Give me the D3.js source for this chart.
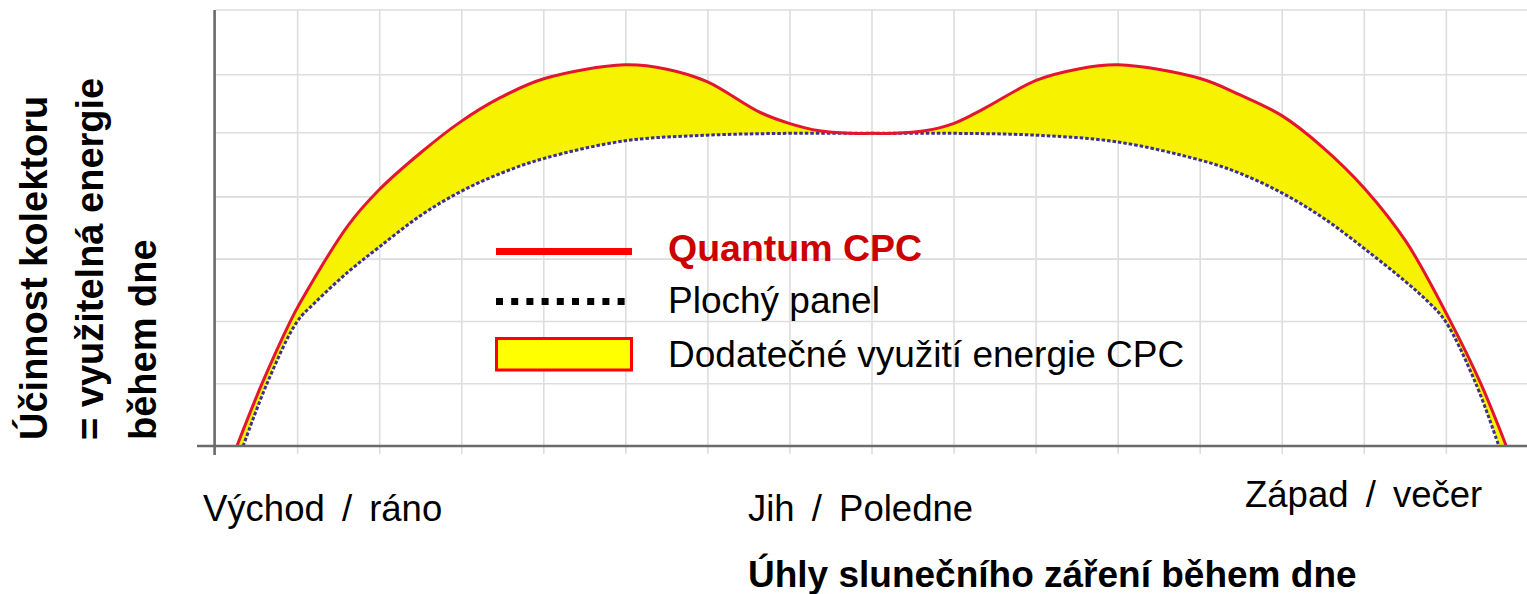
<!DOCTYPE html>
<html>
<head>
<meta charset="utf-8">
<script src="https://cdn.jsdelivr.net/npm/d3@7"></script>
<style>
  html, body { margin: 0; padding: 0; background: #fff; }
  svg { display: block; font-family: "Liberation Sans", Arial, Helvetica, sans-serif; }
</style>
</head>
<body>
<svg id="chart" width="1527" height="594"></svg>
<script>
// ---- data (x: sun angle in grid units, 8 = south/noon; y: collector efficiency in grid units) ----
const cpcX   = [0.26, 0.565, 0.906, 1.03, 1.62, 1.99, 2.51, 2.98, 3.48, 4.01, 4.99, 5.5, 5.99, 6.63, 6.99, 7.36, 7.73, 8.0,
                8.27, 8.64, 9.0, 9.37, 10.0, 10.5, 11.0, 12.0, 12.48, 13.0, 13.49, 14.0, 14.51, 15.05, 15.42, 15.73];
const cpcY   = [0, 1.0, 1.99, 2.30, 3.55, 4.11, 4.72, 5.20, 5.60, 5.90, 6.12, 6.05, 5.85, 5.36, 5.18, 5.06, 5.02, 5.02,
                5.02, 5.06, 5.18, 5.42, 5.87, 6.05, 6.12, 5.90, 5.64, 5.30, 4.80, 4.14, 3.28, 2.0, 1.0, 0];
const flatX  = [0.336, 0.626, 0.99, 1.21, 1.62, 1.99, 2.51, 2.98, 3.48, 4.01, 4.99, 5.99, 6.99, 8.0,
                9.0, 10.0, 11.0, 12.0, 12.48, 13.0, 13.49, 14.0, 14.51, 14.79, 14.99, 15.36, 15.64];
const flatY  = [0, 1.0, 1.99, 2.30, 2.80, 3.19, 3.71, 4.08, 4.38, 4.62, 4.90, 4.99, 5.02, 5.02,
                5.02, 4.99, 4.88, 4.59, 4.38, 4.06, 3.67, 3.17, 2.63, 2.30, 2.0, 1.0, 0];
const xGridValues = [1, 2, 3, 4, 5, 6, 7, 8, 9, 10, 11, 12, 13, 14, 15];
const yGridValues = [1, 2, 3, 4, 5.03, 5.96, 7];
const xTickLabels = [
  { x: 0,     text: "Východ / ráno" },
  { x: 8,     text: "Jih / Poledne" },
  { x: 16,    text: "Západ / večer" }
];
const legendLabels = ["Quantum CPC", "Plochý panel", "Dodatečné využití energie CPC"];
const xTitle = "Úhly slunečního záření během dne";
const yTitleLines = ["Účinnost kolektoru", "= využitelná energie", "během dne"];

// ---- scales ----
const svg = d3.select("#chart");
const x = d3.scaleLinear().domain([0, 16]).range([215.6, 1528.4]);
const y = d3.scaleLinear().domain([0, 7]).range([446, 10]);

// ---- grid ----
const grid = svg.append("g");
grid.selectAll("line.v").data(xGridValues).join("line")
  .attr("x1", d => x(d)).attr("x2", d => x(d))
  .attr("y1", y(7)).attr("y2", 454)
  .attr("stroke", "#dddddd").attr("stroke-width", 1.6);
grid.selectAll("line.h").data(yGridValues).join("line")
  .attr("x1", x(0)).attr("x2", 1527)
  .attr("y1", d => y(d)).attr("y2", d => y(d))
  .attr("stroke", "#dddddd").attr("stroke-width", 1.6);

// ---- curves ----
const cpc = cpcX.map((v, i) => [v, cpcY[i]]);
const flat = flatX.map((v, i) => [v, flatY[i]]);
const curve = d3.curveCatmullRom.alpha(0.5);
const line = d3.line().x(d => x(d[0])).y(d => y(d[1])).curve(curve);
const areaUnderCpc = d3.area().x(d => x(d[0])).y0(y(0)).y1(d => y(d[1])).curve(curve);

// clip: region above the flat-panel curve
const flatLine = line(flat);
const clipD = flatLine +
  `L${x(flatX[flatX.length - 1])},${y(0)}L1527,${y(0)}L1527,0L0,0L0,${y(0)}L${x(flatX[0])},${y(0)}Z`;
svg.append("defs").append("clipPath").attr("id", "aboveFlat")
  .append("path").attr("d", clipD);

svg.append("path").attr("d", areaUnderCpc(cpc))
  .attr("fill", "#f7f300").attr("stroke", "none")
  .attr("clip-path", "url(#aboveFlat)");

svg.append("path").attr("d", flatLine)
  .attr("fill", "none").attr("stroke", "#3d2f8f").attr("stroke-width", 3)
  .attr("stroke-dasharray", "3.5,2");
svg.append("path").attr("d", line(cpc))
  .attr("fill", "none").attr("stroke", "#e3152f").attr("stroke-width", 3);

// ---- axes ----
svg.append("line").attr("x1", 197).attr("x2", 1527).attr("y1", y(0)).attr("y2", y(0))
  .attr("stroke", "#6a6a6a").attr("stroke-width", 2.6);
svg.append("line").attr("x1", x(0) - 1).attr("x2", x(0) - 1).attr("y1", y(7)).attr("y2", 455)
  .attr("stroke", "#6a6a6a").attr("stroke-width", 2.6);

// ---- x tick labels ----
const tickPos = { 0: [203, 521], 8: [748, 521], 16: [1245, 507] };
svg.selectAll("text.tick").data(xTickLabels).join("text")
  .attr("class", "tick")
  .attr("x", d => tickPos[d.x][0]).attr("y", d => tickPos[d.x][1])
  .attr("font-size", 36.5).attr("fill", "#000")
  .attr("word-spacing", 7)
  .text(d => d.text);

// ---- titles ----
svg.append("text").attr("x", 748).attr("y", 587)
  .attr("font-size", 37).attr("font-weight", "bold").attr("fill", "#000")
  .text(xTitle);

const yBase = [47, 103, 156];
yTitleLines.forEach((t, i) => {
  svg.append("text")
    .attr("transform", `translate(${yBase[i]},440) rotate(-90)`)
    .attr("font-size", 38).attr("font-weight", "bold").attr("fill", "#000")
    .text(t);
});

// ---- legend ----
const lg = svg.append("g");
lg.append("line").attr("x1", 496).attr("x2", 632).attr("y1", 251.5).attr("y2", 251.5)
  .attr("stroke", "#ff0000").attr("stroke-width", 7);
lg.append("line").attr("x1", 496).attr("x2", 632).attr("y1", 301.5).attr("y2", 301.5)
  .attr("stroke", "#000").attr("stroke-width", 7).attr("stroke-dasharray", "7,8.2");
lg.append("rect").attr("x", 496.5).attr("y", 338.5).attr("width", 135).attr("height", 31.5)
  .attr("fill", "#ffff00").attr("stroke", "#ff0000").attr("stroke-width", 3);

const lgY = [261, 313, 367];
legendLabels.forEach((t, i) => {
  lg.append("text").attr("x", 668).attr("y", lgY[i])
    .attr("font-size", i === 0 ? 37.5 : 37)
    .attr("font-weight", i === 0 ? "bold" : "normal")
    .attr("fill", i === 0 ? "#cc0000" : "#000")
    .text(t);
});
</script>
</body>
</html>
